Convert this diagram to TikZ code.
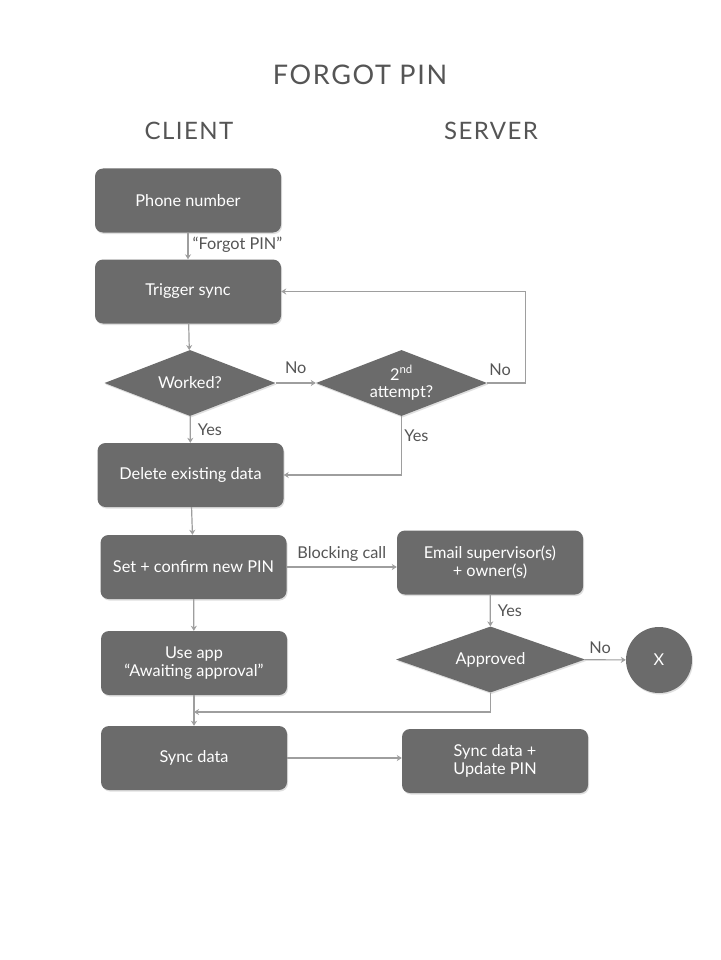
\documentclass[tikz,border=0pt]{standalone}
\usepackage{fontspec}
\setmainfont{Lato}
\newfontfamily\spacedfont[LetterSpace=6]{Lato}
\usetikzlibrary{shapes.geometric,arrows.meta,shadows}
\definecolor{boxfill}{HTML}{6B6B6B}
\definecolor{linegray}{HTML}{9E9E9E}
\definecolor{txtgray}{HTML}{555555}
\begin{document}
\begin{tikzpicture}[x=1pt,y=-1pt,
  every node/.style={font=\fontsize{16.3}{18.5}\selectfont},
  boxshape/.style={draw=none,fill=boxfill,rounded corners=8pt,text=white,
    minimum width=186pt,minimum height=64pt,inner sep=2pt,align=center,
    drop shadow={shadow xshift=1pt,shadow yshift=-1.5pt,opacity=0.25}},
  decision/.style={diamond,aspect=2.6,draw=none,fill=boxfill,text=white,inner sep=0pt,
    minimum width=171pt,minimum height=66pt,align=center,
    drop shadow={shadow xshift=1pt,shadow yshift=-1.5pt,opacity=0.25}},
  endcirc/.style={circle,draw=none,fill=boxfill,text=white,minimum size=66pt,inner sep=0pt,
    drop shadow={shadow xshift=1pt,shadow yshift=-1.5pt,opacity=0.25}},
  arr/.style={draw=linegray,line width=1.2pt,-{Stealth[length=5pt,width=6pt]}},
  lbl/.style={text=txtgray,inner sep=1pt},
  head/.style={text=txtgray,font=\spacedfont\fontsize{24}{28}\selectfont}
]
\useasboundingbox (0,0) rectangle (720,960);
\fill[white] (0,0) rectangle (720,960);

\node[text=txtgray,font=\spacedfont\fontsize{27}{30}\selectfont] (title) at (360,75) {FORGOT PIN};
\node[head] (client) at (189,131) {CLIENT};
\node[head] (server) at (491,131) {SERVER};

\node[boxshape] (phone) at (188,200.5) {Phone number};
\node[boxshape] (trig) at (188,291.5) {Trigger sync};
\node[decision] (work) at (190,383) {Worked?};
\node[decision,font=\fontsize{16.3}{17.5}\selectfont] (att) at (401.5,383) {2\textsuperscript{nd}\\attempt?};
\node[boxshape] (del) at (190.5,475) {Delete existing data};
\node[boxshape] (setpin) at (193.5,567) {Set + confirm new PIN};
\node[boxshape] (email) at (490,562.5) {Email supervisor(s)\\+ owner(s)};
\node[decision,aspect=2.86,minimum width=189pt,minimum height=66pt] (appr) at (490.5,659.5) {Approved};
\node[endcirc] (x) at (659,660) {X};
\node[boxshape] (usea) at (194,663) {Use app\\“Awaiting approval”};
\node[boxshape] (sync) at (194,758) {Sync data};
\node[boxshape] (syncsrv) at (495,761) {Sync data +\\Update PIN};

\coordinate (merge) at (194,712);

\draw[arr] (phone) -- node[lbl,right=3pt,pos=0.45] {“Forgot PIN”} (trig);
\draw[arr] (trig) -- (work);
\draw[arr] (work) -- node[lbl,above=8pt] {No} (att);
\draw[arr] (att.east) -- ++(38,0) |- (trig.east);
\node[lbl] (nolbl2) at ([xshift=13pt,yshift=13pt]att.east) {No};
\draw[arr] (work) -- node[lbl,right=6pt] {Yes} (del);
\draw[arr] (att.south) |- (del.east);
\node[lbl] (yeslbl2) at ([xshift=15pt,yshift=-20pt]att.south) {Yes};
\draw[arr] (del) -- (setpin);
\draw[arr] (setpin.east) -- node[lbl,above=4pt] {Blocking call} (email.west |- setpin.east);
\draw[arr] (email) -- node[lbl,right=6pt] {Yes} (appr);
\draw[arr] (appr) -- node[lbl,above=5pt,xshift=-5pt] {No} (x);
\draw[arr] (setpin) -- (usea);
\draw[arr] (appr.south) |- (merge);
\draw[arr] (usea) -- (sync);
\draw[arr] (sync.east) -- (syncsrv.west |- sync.east);
\end{tikzpicture}
\end{document}
